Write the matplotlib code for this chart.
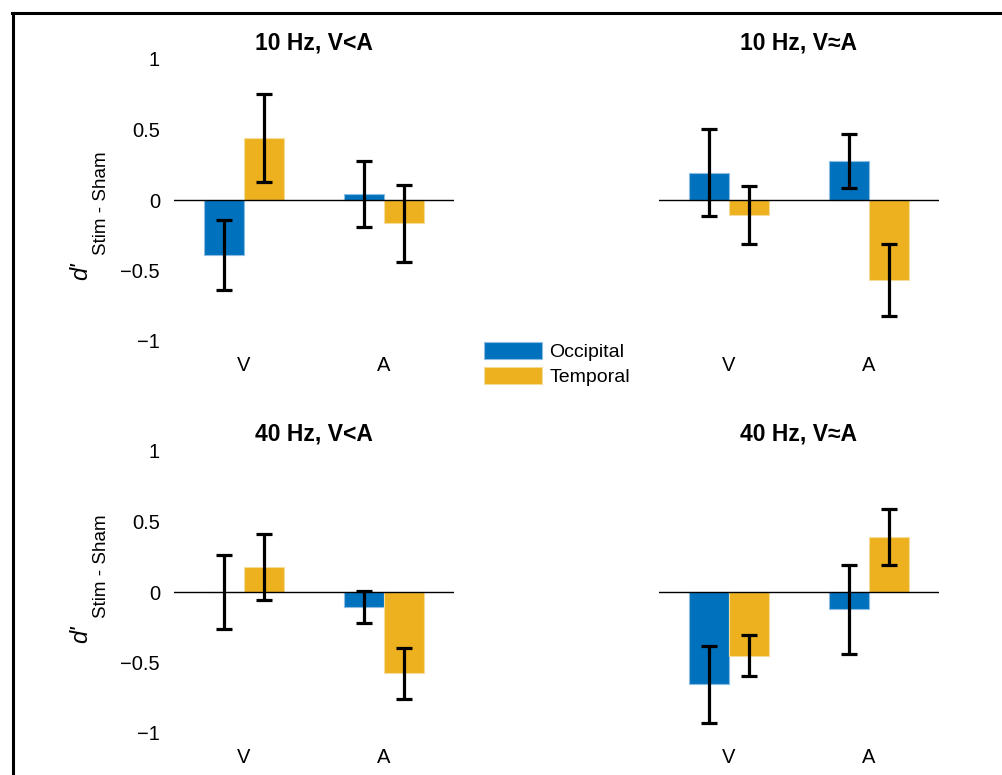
import matplotlib
matplotlib.use('Agg')
import matplotlib.pyplot as plt
import numpy as np
from matplotlib.lines import Line2D

plt.rcParams['font.family'] = ['Liberation Sans', 'DejaVu Sans']

conditions = ['V', 'A']
series = ['Occipital', 'Temporal']
colors = ['#0072BD', '#EDB120']
edge_colors = ['#8cbde3', '#f6dc9a']

titles = ['10 Hz, V<A', '10 Hz, V\u2248A', '40 Hz, V<A', '40 Hz, V\u2248A']

# mean d' (Stim - Sham), [V, A] per series
occipital_means = [[-0.39, 0.044], [0.193, 0.275], [0.0, -0.104], [-0.655, -0.123]]
temporal_means = [[0.44, -0.166], [-0.109, -0.565], [0.18, -0.577], [-0.452, 0.39]]
occipital_err = [[0.247, 0.235], [0.31, 0.19], [0.264, 0.113], [0.273, 0.315]]
temporal_err = [[0.31, 0.275], [0.205, 0.255], [0.234, 0.18], [0.145, 0.197]]

W, H = 1003, 775
fig = plt.figure(figsize=(W / 100, H / 100), dpi=100)

# axes boxes in pixels: left, top, right, bottom
boxes = [(174, 59, 454, 341), (659, 59, 939, 341),
         (174, 451, 454, 733), (659, 451, 939, 733)]
title_y = [43, 43, 434, 434]
# lower end of the rotated "d'" label, pixels from top
label_bottom = [280, None, 643, None]

x = np.arange(1, len(conditions) + 1)
width = 0.285

for i, (l, t, r, b) in enumerate(boxes):
    ax = fig.add_axes([l / W, 1 - b / H, (r - l) / W, (b - t) / H])
    means = [occipital_means[i], temporal_means[i]]
    errs = [occipital_err[i], temporal_err[i]]
    offsets = [-width / 2, width / 2]
    bars = []
    for k in range(2):
        bc = ax.bar(x + offsets[k], means[k], width=width, color=colors[k],
                    edgecolor=edge_colors[k], linewidth=0.8, zorder=2)
        bars.append(bc)
    ax.axhline(0, color='k', lw=1.0, zorder=3)
    for k in range(2):
        ax.errorbar(x + offsets[k], means[k], yerr=errs[k], fmt='none',
                    ecolor='k', elinewidth=2.3, capsize=5.5, capthick=2.3, zorder=4)
    ax.set_xlim(0.5, 2.5)
    ax.set_ylim(-1, 1)
    ax.set_xticks(x)
    ax.set_xticklabels(conditions, fontsize=14.5)
    for s in ax.spines.values():
        s.set_visible(False)
    ax.tick_params(axis='both', length=0)
    ax.tick_params(axis='x', pad=11)
    if i % 2 == 0:
        ax.set_yticks([-1, -0.5, 0, 0.5, 1])
        ax.set_yticklabels(['\u22121', '\u22120.5', '0', '0.5', '1'], fontsize=14.5)
        ax.tick_params(axis='y', pad=10)
        yb = label_bottom[i]
        fig.text(87 / W, 1 - yb / H, "d'", rotation=90, rotation_mode='anchor',
                 ha='left', va='baseline', fontsize=17, style='italic')
        fig.text(106.5 / W, 1 - (yb - 25) / H, 'Stim - Sham', rotation=90,
                 rotation_mode='anchor', ha='left', va='baseline', fontsize=13.5)
    else:
        ax.set_yticks([])
    fig.text((l + r) / 2 / W, 1 - title_y[i] / H, titles[i],
             ha='center', va='center', fontsize=16.5, fontweight='bold')
    if i == 0:
        legend_handles = bars

fig.legend(legend_handles, series, loc='upper left',
           bbox_to_anchor=(484 / W, 1 - 342 / H), frameon=False, fontsize=14,
           handlelength=3.0, handleheight=0.95, handletextpad=0.35,
           labelspacing=0.3, borderpad=0, borderaxespad=0)

# frame around figure (top and left)
fig.add_artist(Line2D([13 / W, 13 / W], [0, 1 - 13 / H], color='k', lw=2.2,
                      transform=fig.transFigure))
fig.add_artist(Line2D([12 / W, 1], [1 - 13 / H, 1 - 13 / H], color='k', lw=2.2,
                      transform=fig.transFigure))

fig.savefig('out.png', dpi=100)
